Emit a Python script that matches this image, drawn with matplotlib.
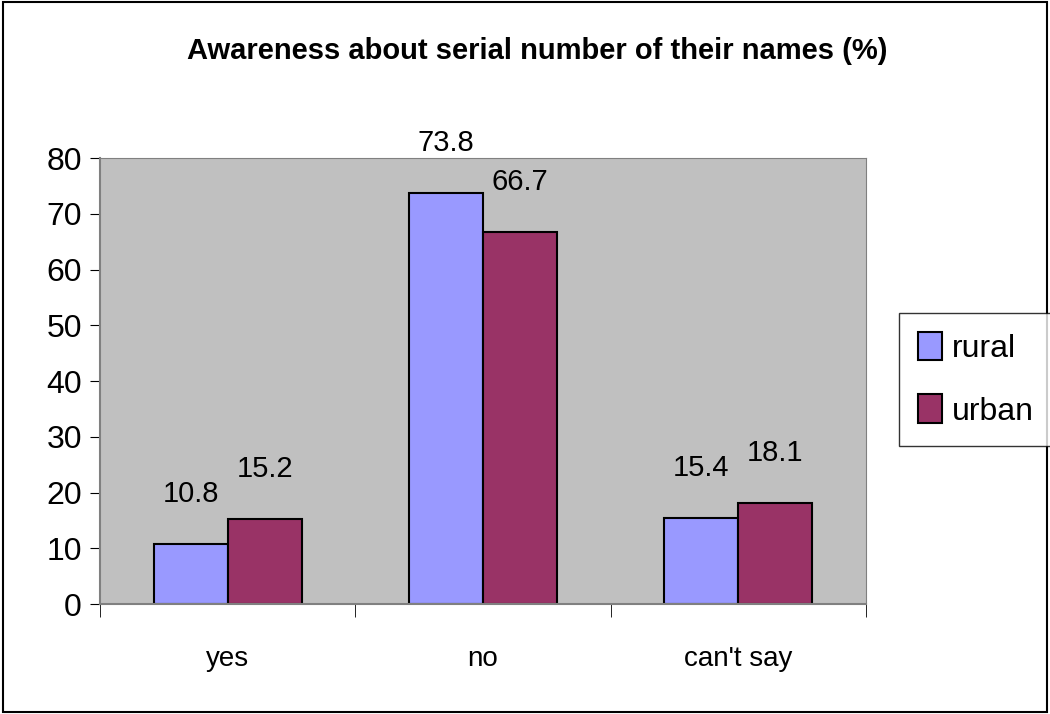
import matplotlib.pyplot as plt
import numpy as np
from matplotlib.patches import Rectangle

categories = ["yes", "no", "can't say"]
rural = [10.8, 73.8, 15.4]
urban = [15.2, 66.7, 18.1]
yticks = [0, 10, 20, 30, 40, 50, 60, 70, 80]

plt.rcParams['font.family'] = ['Liberation Sans', 'DejaVu Sans']

fig = plt.figure(figsize=(10.5, 7.14), dpi=100)
ax = fig.add_axes([0.0952, 0.154, 0.7295, 0.6247])
ax.set_facecolor('#C0C0C0')

x = np.arange(len(categories))
w = 0.29
b1 = ax.bar(x - w / 2, rural, w, color='#9999FF', edgecolor='black', linewidth=1.5, label='rural')
b2 = ax.bar(x + w / 2, urban, w, color='#993366', edgecolor='black', linewidth=1.5, label='urban')

# etiquetas de datos encima de cada barra
for bars, vals in [(b1, rural), (b2, urban)]:
    for r, v in zip(bars, vals):
        ax.annotate(f"{v:.1f}", (r.get_x() + r.get_width() / 2, v), xytext=(0, 36),
                    textcoords='offset points', ha='center', va='center', fontsize=21)

ax.set_xlim(-0.5, 2.5)
ax.set_ylim(0, 80)
ax.set_yticks(yticks)
ax.set_yticklabels([str(t) for t in yticks], fontsize=23)
ax.set_xticks(x)
ax.set_xticklabels(categories, fontsize=20)
ax.tick_params(axis='x', length=0, pad=30)
ax.set_xticks([-0.5, 0.5, 1.5, 2.5], minor=True)
ax.tick_params(axis='x', which='minor', length=9, direction='out', color='black')
ax.tick_params(axis='y', length=7, direction='out', color='black', pad=6)

for s in ['top', 'right']:
    ax.spines[s].set_color('#808080')
for s in ['left', 'bottom']:
    ax.spines[s].set_color('#808080')
    ax.spines[s].set_linewidth(1.5)

fig.text(0.512, 0.928, "Awareness about serial number of their names (%)", ha='center', va='center',
         fontsize=21, fontweight='bold')

leg = fig.legend(loc='upper left', bbox_to_anchor=(0.856, 0.562), fontsize=23, frameon=True,
                 fancybox=False, edgecolor='black', handlelength=0.75, handleheight=1.0,
                 handletextpad=0.3, labelspacing=0.95, borderpad=0.6, borderaxespad=0)
leg.get_frame().set_linewidth(1.0)

# marco alrededor de la figura
fig.patches.append(Rectangle((0.003, 0.003), 0.994, 0.994, transform=fig.transFigure,
                             fill=False, edgecolor='black', linewidth=1.5))

plt.savefig('out.png', dpi=100)
